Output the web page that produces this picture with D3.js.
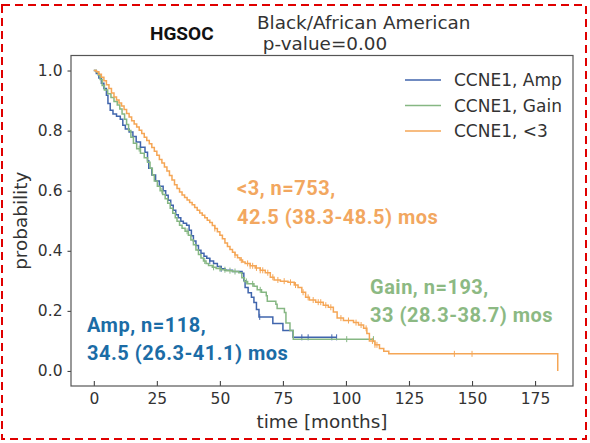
<!DOCTYPE html>
<html>
<head>
<meta charset="utf-8">
<script src="https://cdn.jsdelivr.net/npm/d3@7"></script>
<style>
  body { margin: 0; background: #fff; }
  text { font-family: "DejaVu Sans", sans-serif; }
</style>
</head>
<body>
<script>
// KM curves: [time (months), survival probability]
var ampCurve = [[0,1],[1,0.99],[2,0.975],[3,0.958],[4,0.94],[5,0.918],[5.6,0.89],[6.5,0.868],[7.6,0.855],[9,0.848],[10.5,0.838],[11.5,0.818],[12.5,0.805],[14,0.795],[15.5,0.78],[16.8,0.762],[18.5,0.745],[20.3,0.728],[21.3,0.7],[21.8,0.675],[23,0.652],[24.5,0.632],[26,0.615],[27.5,0.6],[28.5,0.585],[29.5,0.568],[30.5,0.552],[31.5,0.535],[32.5,0.52],[33.5,0.51],[34.5,0.498],[35.5,0.492],[36.8,0.485],[37.8,0.468],[38.7,0.45],[39.5,0.433],[40.5,0.418],[41.5,0.402],[42.5,0.392],[43.7,0.382],[44.8,0.375],[46,0.366],[47.5,0.358],[49,0.348],[50.5,0.34],[52,0.335],[55,0.331],[58.8,0.325],[59.5,0.3],[60,0.278],[61.2,0.26],[62.5,0.245],[63.5,0.228],[64.5,0.205],[65.5,0.18],[71,0.158],[75,0.135],[79,0.112],[96.3,0.112]];

var gainCurve = [[0,1],[1,0.996],[1.7,0.985],[2.5,0.97],[3.3,0.95],[4.2,0.935],[5.5,0.923],[6.8,0.91],[8,0.897],[9.3,0.885],[10.3,0.872],[11.2,0.855],[12.2,0.838],[13,0.82],[13.8,0.8],[14.7,0.778],[15.7,0.758],[17,0.74],[18.5,0.725],[20,0.71],[21.3,0.695],[22.3,0.675],[23.2,0.652],[24,0.632],[25.2,0.615],[26.3,0.6],[27.3,0.587],[28.3,0.573],[29.3,0.558],[30.3,0.542],[31.3,0.525],[32.3,0.51],[33,0.498],[34,0.485],[35,0.475],[36.2,0.465],[37.5,0.452],[38.5,0.436],[39.5,0.42],[40.5,0.403],[41.5,0.388],[42.5,0.376],[43.5,0.366],[44.5,0.358],[45.5,0.351],[47,0.345],[48.5,0.341],[50.5,0.337],[52.5,0.334],[55,0.331],[57.5,0.327],[58.7,0.31],[59.7,0.298],[61,0.29],[63.5,0.282],[64.8,0.27],[66.5,0.262],[68.4,0.25],[68.8,0.232],[72.2,0.222],[72.7,0.208],[75.6,0.195],[76.2,0.16],[77.8,0.135],[79.1,0.106],[111,0.106]];

var lowCurve = [[0,1],[1,0.996],[2,0.988],[3,0.978],[4,0.966],[5,0.953],[6,0.94],[7,0.925],[8,0.912],[9,0.902],[10,0.892],[11,0.882],[12,0.87],[13,0.857],[14,0.845],[15,0.833],[16,0.822],[17,0.812],[18,0.801],[19,0.79],[20,0.778],[21,0.767],[22,0.756],[23,0.744],[24,0.731],[25,0.718],[26,0.704],[27,0.692],[28,0.679],[29,0.666],[30,0.651],[31,0.636],[32,0.62],[33,0.607],[34,0.596],[35,0.586],[36,0.577],[37,0.569],[38,0.561],[39,0.553],[40,0.544],[41,0.535],[42,0.526],[43,0.518],[44,0.51],[45,0.502],[46,0.494],[47,0.484],[48,0.474],[49,0.463],[50,0.452],[51,0.44],[52,0.426],[53,0.414],[54,0.404],[55,0.395],[56,0.386],[57,0.377],[58,0.369],[59,0.363],[60,0.358],[62,0.35],[64,0.343],[66,0.335],[68,0.327],[70,0.312],[71.5,0.303],[74,0.299],[77,0.295],[79.5,0.286],[81,0.278],[82.5,0.262],[84,0.245],[85.5,0.236],[88,0.229],[91,0.219],[93,0.212],[95,0.196],[96.5,0.176],[99,0.168],[103,0.161],[105,0.153],[107,0.142],[108.3,0.125],[109.3,0.1],[111.5,0.087],[113.3,0.075],[115,0.066],[117,0.057],[184,0]];

// censored observations (months)
var ampCensor = [46, 50.5, 65.8, 82.5, 85, 94.4, 96.3];
var gainCensor = [18, 27, 37, 44, 47.5, 50, 52, 54, 56, 60.5, 63, 66, 100.3, 110.9];
var lowCensor = [48, 56, 58.5, 61, 62, 63, 64.5, 66, 67, 69, 71, 73, 75.5, 78, 80, 83, 85, 87, 89, 90, 92, 94, 98, 101, 104, 106, 108, 110.5, 111.5, 112.3, 143, 150];

var legendLabels = ["CCNE1, Amp", "CCNE1, Gain", "CCNE1, <3"];
var xTicks = [0, 25, 50, 75, 100, 125, 150, 175];
var yTicks = [0.0, 0.2, 0.4, 0.6, 0.8, 1.0];

var lineColors = ["#4065ad", "#86b783", "#f5a656"];
var textColors = ["#1b6ca6", "#8cb983", "#f2a760"];

var W = 590, H = 443;
var margin = {top: 55.5, right: 17, bottom: 57, left: 71};
var width = W - margin.left - margin.right,
    height = H - margin.top - margin.bottom;

var root = d3.select("body").append("svg")
    .attr("width", W)
    .attr("height", H);

// dashed red frame round the whole figure
root.append("rect")
    .attr("x", 2).attr("y", 5)
    .attr("width", 584).attr("height", 434)
    .attr("fill", "none")
    .attr("stroke", "#e00000")
    .attr("stroke-width", 2)
    .attr("stroke-dasharray", "8,5");

var svg = root.append("g")
    .attr("transform", "translate(" + margin.left + "," + margin.top + ")");

var x = d3.scaleLinear().domain([-9.05, 190.05]).range([0, width]);
var y = d3.scaleLinear().domain([-0.05, 1.05]).range([height, 0]);

// axes
var xAxis = svg.append("g")
    .attr("transform", "translate(0," + height + ")")
    .call(d3.axisBottom(x).tickValues(xTicks).tickSize(-5).tickPadding(7).tickFormat(d3.format("d")));
var yAxis = svg.append("g")
    .call(d3.axisLeft(y).tickValues(yTicks).tickSize(3.5).tickPadding(5).tickFormat(d3.format(".1f")));

[xAxis, yAxis].forEach(function(a) {
  a.select(".domain").remove();
  a.selectAll("line").attr("stroke", "#444").attr("stroke-width", 1.1);
  a.selectAll("text").attr("fill", "#333").style("font-size", "15.5px")
    .style("font-family", "'DejaVu Sans', sans-serif");
});

// frame
svg.append("rect")
    .attr("width", width)
    .attr("height", height)
    .attr("fill", "none")
    .attr("stroke", "#555")
    .attr("stroke-width", 1.2);

// curves
var km = d3.line()
    .x(function(d) { return x(d[0]); })
    .y(function(d) { return y(d[1]); })
    .curve(d3.curveStepAfter);

var curves = [ampCurve, gainCurve, lowCurve];
var censors = [ampCensor, gainCensor, lowCensor];

function survAt(curve, t) {
  var s = curve[0][1];
  for (var i = 0; i < curve.length; i++) {
    if (curve[i][0] <= t) s = curve[i][1];
  }
  return s;
}

curves.forEach(function(c, i) {
  svg.append("path")
      .datum(c)
      .attr("fill", "none")
      .attr("stroke", lineColors[i])
      .attr("stroke-width", 1.5)
      .attr("d", km);

  svg.selectAll(".cens" + i)
      .data(censors[i])
      .enter().append("line")
      .attr("class", "cens" + i)
      .attr("x1", function(t) { return x(t); })
      .attr("x2", function(t) { return x(t); })
      .attr("y1", function(t) { return y(survAt(c, t)) - 3; })
      .attr("y2", function(t) { return y(survAt(c, t)) + 3; })
      .attr("stroke", lineColors[i])
      .attr("stroke-width", 1);
});

// legend
var legend = svg.append("g")
    .attr("transform", "translate(" + (405 - margin.left) + "," + (80 - margin.top) + ")");
legendLabels.forEach(function(l, i) {
  legend.append("line")
      .attr("x1", 0).attr("x2", 36)
      .attr("y1", i * 25.5).attr("y2", i * 25.5)
      .attr("stroke", lineColors[i])
      .attr("stroke-width", 1.5);
  legend.append("text")
      .attr("x", 49)
      .attr("y", i * 25.5)
      .attr("dy", "0.36em")
      .attr("fill", "#333")
      .style("font-size", "17px")
      .text(l);
});

// annotations
var notes = [
  {lines: ["Amp, n=118,", "34.5 (26.3-41.1) mos"], x: 87, y: 331.5, c: 0},
  {lines: ["Gain, n=193,", "33 (28.3-38.7) mos"], x: 370, y: 293.5, c: 1},
  {lines: ["<3, n=753,", "42.5 (38.3-48.5) mos"], x: 237, y: 195, c: 2}
];
notes.forEach(function(n) {
  var t = root.append("text")
      .attr("fill", textColors[n.c])
      .style("font-family", "Roboto, sans-serif")
      .style("font-weight", "bold")
      .style("font-size", "20px")
      .style("letter-spacing", "0.5px");
  n.lines.forEach(function(s, k) {
    t.append("tspan").attr("x", n.x).attr("y", n.y + k * 28.5).text(s);
  });
});

// titles
root.append("text")
    .attr("x", 150).attr("y", 40)
    .style("font-family", "Roboto, sans-serif")
    .style("font-weight", "bold")
    .style("font-size", "19px")
    .attr("fill", "#111")
    .text("HGSOC");

var sub = root.append("text")
    .attr("fill", "#333")
    .style("font-size", "18.4px");
sub.append("tspan").attr("x", 257).attr("y", 29).text("Black/African American");
sub.append("tspan").attr("x", 257).attr("y", 50).text("\u00a0p-value=0.00");

// axis labels
root.append("text")
    .attr("x", margin.left + width / 2)
    .attr("y", 428)
    .attr("text-anchor", "middle")
    .attr("fill", "#333")
    .style("font-size", "18.4px")
    .text("time [months]");

root.append("text")
    .attr("transform", "translate(27," + (margin.top + height / 2) + ") rotate(-90)")
    .attr("text-anchor", "middle")
    .attr("fill", "#333")
    .style("font-size", "18.4px")
    .text("probability");
</script>
</body>
</html>
